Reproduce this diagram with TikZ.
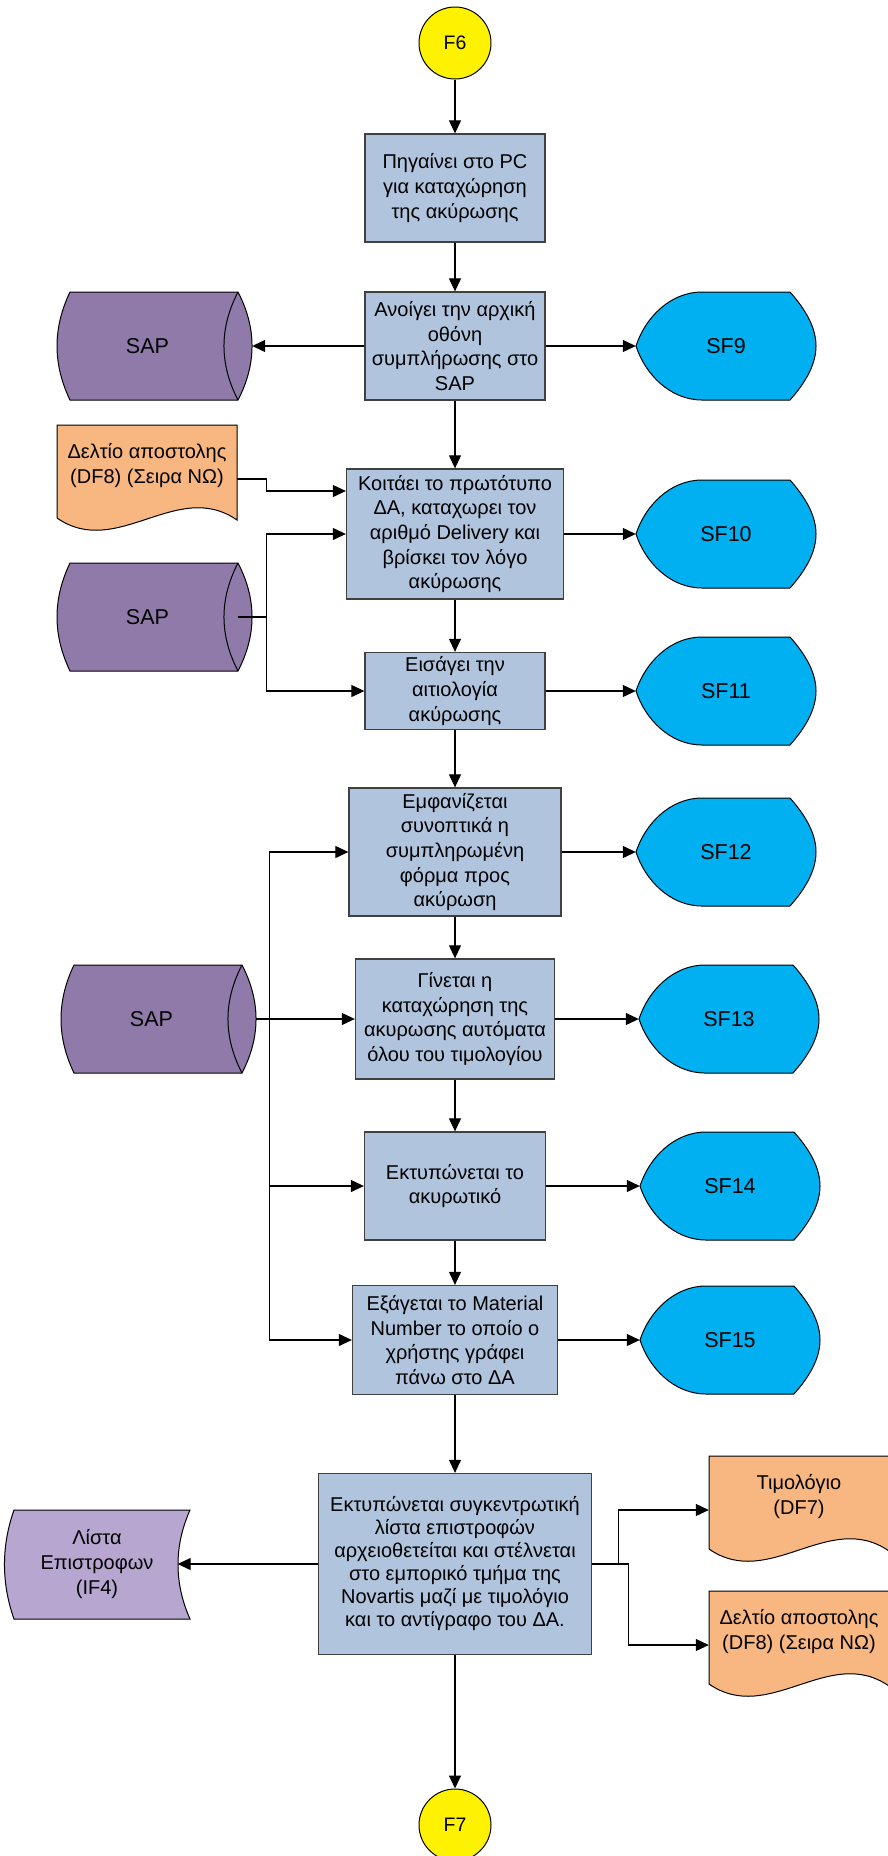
\documentclass[tikz,border=0pt]{standalone}
\usepackage{fontspec}
\setmainfont{Liberation Sans}
\usetikzlibrary{arrows.meta,calc}
\definecolor{procfill}{RGB}{176,196,222}
\definecolor{procline}{RGB}{64,64,64}
\definecolor{sapfill}{RGB}{144,122,170}
\definecolor{sffill}{RGB}{0,176,240}
\definecolor{docfill}{RGB}{248,182,128}
\definecolor{iffill}{RGB}{182,166,208}
\newcommand\RaiseTxt[2]{\raisebox{#1}[\height][\depth]{\begin{tabular}{@{}c@{}}#2\end{tabular}}}
\newcommand\SFshape[4]{%
  \filldraw[sfline, shift={(#2,#3)}] (-24,-54) -- (64,-54) .. controls (80,-36) and (90,-18) .. (90,0) .. controls (90,18) and (80,36) .. (64,54) -- (-24,54) .. controls (-56,54) and (-81,28) .. (-90,0) .. controls (-81,-28) and (-56,-54) .. (-24,-54) -- cycle;
  \node[shapetext, font=\biglabel, minimum width=180pt, minimum height=108pt] (#1) at (#2,#3) {#4};}
\newcommand\CylShape[4]{%
  \begin{scope}[shift={(#2,#3)}]
  \filldraw[cylline] (13,0) -- (181,0) .. controls (199.7,36) and (199.7,72) .. (181,108) -- (13,108) .. controls (-4.3,72) and (-4.3,36) .. (13,0) -- cycle;
  \draw[cylline] (181,0) .. controls (162.3,36) and (162.3,72) .. (181,108);
  \node[shapetext, font=\biglabel, minimum width=195pt, minimum height=108pt] (#1) at (97.5,54) {#4\hspace*{14pt}};
  \end{scope}}
\newcommand\DocShape[4]{%
  \begin{scope}[shift={(#2,#3)}]
  \filldraw[docline] (0,0) -- (180,0) -- (180,95) .. controls (120,53.4) and (60,134.6) .. (0,93) -- cycle;
  \node[shapetext, minimum width=180pt, minimum height=108pt] (#1) at (90,54) {\RaiseTxt{13pt}{#4}};
  \end{scope}}
\newcommand\biglabel{\fontsize{21.5pt}{25pt}\selectfont}
\newcommand\boxfont{\fontsize{20pt}{24.6pt}\selectfont}
\begin{document}
\begin{tikzpicture}[x=1pt,y=-1pt,
  proc/.style={rectangle, draw=procline, line width=1.3pt, fill=procfill, align=center, inner sep=0pt, font=\boxfont},
  term/.style={circle, draw=black, line width=1pt, fill=yellow, minimum size=72pt, inner sep=0pt, font=\fontsize{19.5pt}{24pt}\selectfont},
  shapetext/.style={rectangle, draw=none, inner sep=0pt, align=center, font=\boxfont},
  sfline/.style={draw=black, line width=1pt, fill=sffill},
  cylline/.style={draw=black, line width=1pt, fill=sapfill},
  docline/.style={draw=black, line width=1pt, fill=docfill},
  arr/.style={draw=black, line width=1.1pt, -{Triangle[length=13pt,width=12pt]}}
]
\useasboundingbox (0,0) rectangle (888,1856);

% terminators
\node[term] (f6) at (455,43) {F6};
\node[term] (f7) at (455,1825) {F7};

% process boxes
\node[proc, minimum width=180pt, minimum height=108pt] (b1) at (455,188) {Πηγαίνει στο PC\\για καταχώρηση\\της ακύρωσης};
\node[proc, minimum width=180pt, minimum height=108pt] (b2) at (455,346) {Ανοίγει την αρχική\\οθόνη\\συμπλήρωσης στο\\SAP};
\node[proc, minimum width=217pt, minimum height=130pt] (b3) at (455,534) {Κοιτάει το πρωτότυπο\\ΔΑ, καταχωρει τον\\αριθμό Delivery και\\βρίσκει τον λόγο\\ακύρωσης};
\node[proc, minimum width=180pt, minimum height=77pt] (b4) at (455,691) {Εισάγει την\\αιτιολογία\\ακύρωσης};
\node[proc, minimum width=212pt, minimum height=128pt] (b5) at (455,852) {Εμφανίζεται\\συνοπτικά η\\συμπληρωμένη\\φόρμα προς\\ακύρωση};
\node[proc, minimum width=199pt, minimum height=120pt] (b6) at (455,1019) {Γίνεται η\\καταχώρηση της\\ακυρωσης αυτόματα\\όλου του τιμολογίου};
\node[proc, minimum width=181pt, minimum height=108pt] (b7) at (455,1186) {Εκτυπώνεται το\\ακυρωτικό};
\node[proc, minimum width=205pt, minimum height=109pt] (b8) at (455,1340) {Εξάγεται το Material\\Number το οποίο ο\\χρήστης γράφει\\πάνω στο ΔΑ};
\node[proc, minimum width=273pt, minimum height=181pt, font=\fontsize{20pt}{23pt}\selectfont] (b9) at (455,1564) {Εκτυπώνεται συγκεντρωτική\\λίστα επιστροφών\\αρχειοθετείται και στέλνεται\\στο εμπορικό τμήμα της\\Novartis μαζί με τιμολόγιο\\και το αντίγραφο του ΔΑ.};

% SAP storage
\CylShape{sap1}{57}{292}{SAP}
\CylShape{sap2}{57}{563}{SAP}
\CylShape{sap3}{61}{965}{SAP}

% displays
\SFshape{sf9}{726}{346}{SF9}
\SFshape{sf10}{726}{534}{SF10}
\SFshape{sf11}{726}{691}{SF11}
\SFshape{sf12}{726}{852}{SF12}
\SFshape{sf13}{729}{1019}{SF13}
\SFshape{sf14}{730}{1186}{SF14}
\SFshape{sf15}{730}{1340}{SF15}

% documents
\DocShape{df8a}{57}{425}{Δελτίο αποστολης\\(DF8) (Σειρα ΝΩ)}
\DocShape{df7}{709}{1456}{Τιμολόγιο\\(DF7)}
\DocShape{df8b}{709}{1591}{Δελτίο αποστολης\\(DF8) (Σειρα ΝΩ)}

% stored data IF4
\filldraw[draw=black, line width=1pt, fill=iffill] (14,1510) -- (190,1510) .. controls (174,1546) and (174,1583) .. (190,1619) -- (14,1619) .. controls (1.3,1583) and (1.3,1546) .. (14,1510) -- cycle;
\node[shapetext, minimum width=185pt, minimum height=109pt] (if4) at (97,1564) {Λίστα\\Επιστροφων\\(IF4)};

% connectors
\draw[arr] (f6.south) -- (b1.north);
\draw[arr] (b1.south) -- (b2.north);
\draw[arr] (b2.west) -- (sap1.east);
\draw[arr] (b2.east) -- (sf9.west);
\draw[arr] (b2.south) -- (b3.north);
\draw[arr] (df8a.east) -- ++(29,0) |- ([yshift=43pt]b3.west);
\draw[arr] ([xshift=-14pt]sap2.east) -- ++(28,0) coordinate (j1) |- (b3.west);
\draw[arr] (j1) |- (b4.west);
\draw[arr] (b3.east) -- (sf10.west);
\draw[arr] (b3.south) -- (b4.north);
\draw[arr] (b4.east) -- (sf11.west);
\draw[arr] (b4.south) -- (b5.north);
\draw[arr] (b5.east) -- (sf12.west);
\draw[arr] (b5.south) -- (b6.north);
\draw[arr] (sap3.east) -- (b6.west);
\draw[line width=1.1pt] (sap3.east) -- ++(13,0) coordinate (j2);
\draw[arr] (j2) |- (b5.west);
\draw[arr] (j2) |- (b7.west);
\draw[arr] (j2) |- (b8.west);
\draw[arr] (b6.east) -- (sf13.west);
\draw[arr] (b6.south) -- (b7.north);
\draw[arr] (b7.east) -- (sf14.west);
\draw[arr] (b7.south) -- (b8.north);
\draw[arr] (b8.east) -- (sf15.west);
\draw[arr] (b8.south) -- (b9.north);
\draw[arr] (b9.west) -- ([xshift=-12pt]if4.east);
\draw[arr] (b9.east) -- ++(26,0) |- (df7.west);
\draw[arr] (b9.east) -- ++(36,0) |- (df8b.west);
\draw[arr] (b9.south) -- (f7.north);
\end{tikzpicture}
\end{document}
